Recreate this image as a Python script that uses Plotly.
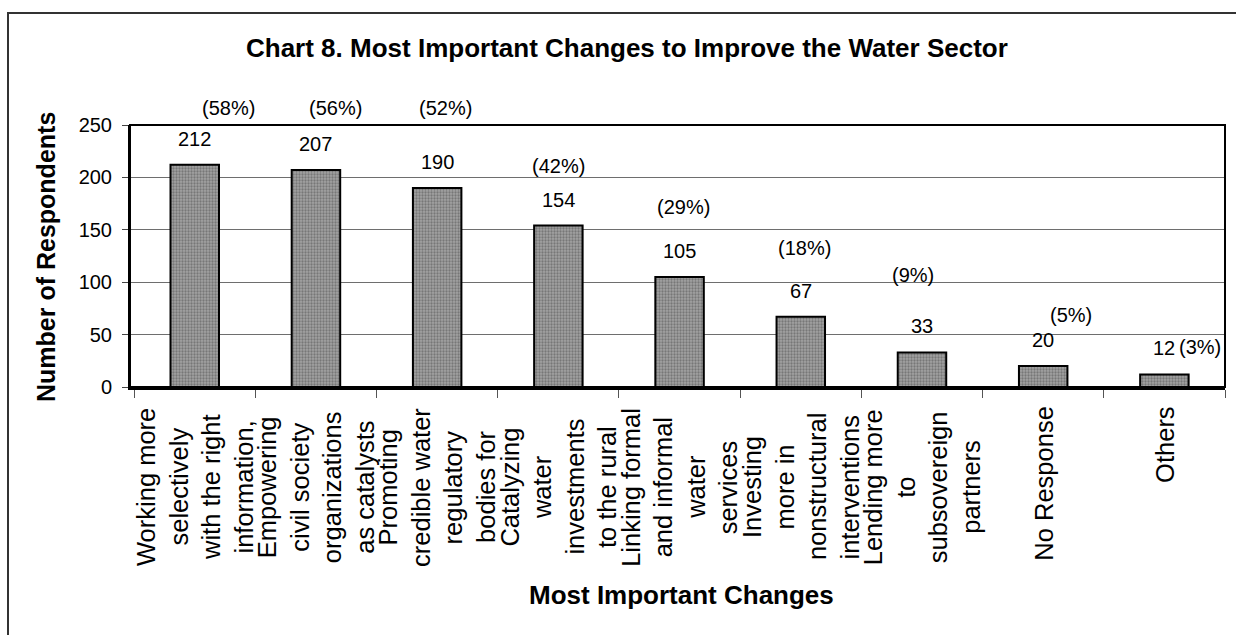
import plotly.graph_objects as go

# Category labels, one list of wrapped lines per category
category_lines = [
    ["Working more", "selectively", "with the right", "information,"],
    ["Empowering", "civil society", "organizations", "as catalysts"],
    ["Promoting", "credible water", "regulatory", "bodies for"],
    ["Catalyzing", "water", "investments", "to the rural"],
    ["Linking formal", "and informal", "water", "services"],
    ["Investing", "more in", "nonstructural", "interventions"],
    ["Lending more", "to", "subsovereign", "partners"],
    ["No Response"],
    ["Others"],
]
respondents = [212, 207, 190, 154, 105, 67, 33, 20, 12]
shares_pct = [58, 56, 52, 42, 29, 18, 9, 5, 3]
y_ticks = [0, 50, 100, 150, 200, 250]

categories = [" ".join(lines) for lines in category_lines]

# Placement of the percentage labels relative to the bar top (pixels)
pct_dx = [34, 20, 8, 0, 4, 4, -9, 28, 36]
pct_dy = [57, 62, 80, 60, 70, 69, 77, 51, 27]

FONT = "Liberation Sans, Arial, sans-serif"
W, H = 1236, 635
ML, MR, MT, MB = 130, 11, 125, 248
PW, PH = W - ML - MR, H - MT - MB


def px_x(px):
    return (px - ML) / PW


def px_y(py):
    return (H - MB - py) / PH


fig = go.Figure()
fig.add_trace(go.Bar(
    x=categories,
    y=respondents,
    width=0.4,
    marker=dict(
        color="#959595",
        line=dict(color="black", width=2),
        pattern=dict(shape=".", fgcolor="#4c4c4c", bgcolor="#a2a2a2",
                     size=3, solidity=0.45),
    ),
    hoverinfo="skip",
))

annotations = []
# value and percentage labels
for cat, v, p, dx, dy in zip(categories, respondents, shares_pct, pct_dx, pct_dy):
    annotations.append(dict(x=cat, y=v, xref="x", yref="y", text=str(v),
                            showarrow=False, yshift=26, yanchor="middle",
                            font=dict(family=FONT, size=20, color="black")))
    annotations.append(dict(x=cat, y=v, xref="x", yref="y", text=f"({p}%)",
                            showarrow=False, yshift=dy, xshift=dx, yanchor="middle",
                            font=dict(family=FONT, size=20, color="black")))

# rotated category labels, one column per wrapped line
line_gap = 32.5
for cat, lines in zip(categories, category_lines):
    n = len(lines)
    for k, line in enumerate(lines):
        if n > 1:
            yy, ya = px_y(487), "middle"
        else:
            yy, ya = px_y(404), "top"
        annotations.append(dict(x=cat, xref="x", y=yy, yref="paper", text=line,
                                showarrow=False, textangle=-90,
                                xshift=(k - (n - 1) / 2) * line_gap,
                                xanchor="center", yanchor=ya,
                                font=dict(family=FONT, size=25.5, color="black")))

# titles
annotations.append(dict(x=px_x(627), y=px_y(48), xref="paper", yref="paper",
                        text="<b>Chart 8. Most Important Changes to Improve the Water Sector</b>",
                        showarrow=False, xanchor="center", yanchor="middle",
                        font=dict(family=FONT, size=26, color="black")))
annotations.append(dict(x=px_x(681), y=px_y(595), xref="paper", yref="paper",
                        text="<b>Most Important Changes</b>",
                        showarrow=False, xanchor="center", yanchor="middle",
                        font=dict(family=FONT, size=26, color="black")))
annotations.append(dict(x=px_x(46), y=px_y(257), xref="paper", yref="paper",
                        text="<b>Number of Respondents</b>", textangle=-90,
                        showarrow=False, xanchor="center", yanchor="middle",
                        font=dict(family=FONT, size=25, color="black")))

shapes = [
    # outer chart frame
    dict(type="rect", xref="paper", yref="paper",
         x0=px_x(8), x1=px_x(1245), y0=px_y(645), y1=px_y(13),
         line=dict(color="#333333", width=2), layer="below"),
    # plot area frame
    dict(type="rect", xref="paper", yref="paper", x0=0, x1=1, y0=0, y1=1,
         line=dict(color="black", width=2)),
]

fig.update_layout(
    width=W, height=H, autosize=False,
    margin=dict(l=ML, r=MR, t=MT, b=MB, pad=0),
    paper_bgcolor="white", plot_bgcolor="white",
    showlegend=False,
    font=dict(family=FONT, size=20, color="black"),
    annotations=annotations,
    shapes=shapes,
    bargap=0.6,
)
fig.update_xaxes(
    type="category", categoryorder="array", categoryarray=categories,
    showticklabels=False, tickson="boundaries", ticks="outside",
    ticklen=8, tickwidth=1, tickcolor="#555555",
    showline=True, linecolor="black", linewidth=3,
    showgrid=False, zeroline=False, fixedrange=True,
)
fig.update_yaxes(
    range=[0, 250], tickvals=y_ticks, ticks="outside", ticklen=6,
    tickwidth=1, tickcolor="#444444", ticklabelstandoff=6,
    tickfont=dict(family=FONT, size=20, color="black"),
    showline=True, linecolor="black", linewidth=2,
    showgrid=True, gridcolor="#6e6e6e", gridwidth=1,
    zeroline=False, fixedrange=True,
)

fig.write_html("out.html")
